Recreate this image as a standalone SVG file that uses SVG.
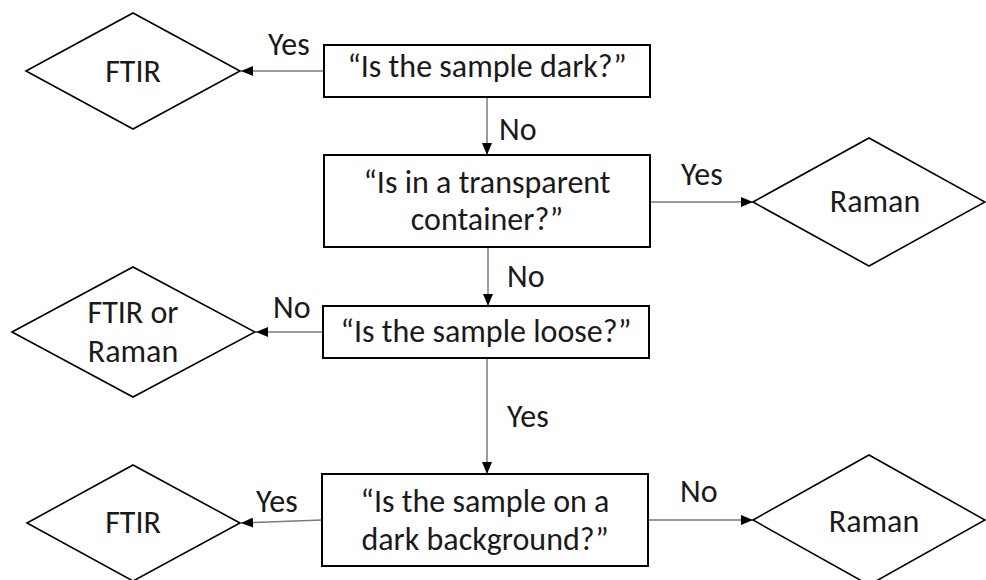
<svg xmlns="http://www.w3.org/2000/svg" width="986" height="580" viewBox="0 0 986 580">
<style>
text{font-family:Carlito,Calibri,"Liberation Sans",sans-serif;font-size:32px;fill:#1a1a1a}
.c{text-anchor:middle}
.box{fill:#fff;stroke:#000;stroke-width:2}
.dia{fill:#fff;stroke:#000;stroke-width:1.6}
.con{fill:none;stroke:#7a7a7a;stroke-width:1.5}
</style>
<defs>
<marker id="ah" markerUnits="userSpaceOnUse" markerWidth="12" markerHeight="10" viewBox="0 0 12 10" refX="12" refY="5" orient="auto">
<path d="M0,0 L12,5 L0,10 Z" fill="#000"/>
</marker>
</defs>
<g id="connectors">
<line class="con" x1="324" y1="71" x2="241" y2="71" marker-end="url(#ah)"/>
<line class="con" x1="487" y1="97" x2="487" y2="155" marker-end="url(#ah)"/>
<line class="con" x1="650" y1="202" x2="753" y2="202" marker-end="url(#ah)"/>
<line class="con" x1="488" y1="247" x2="488" y2="306" marker-end="url(#ah)"/>
<line class="con" x1="323" y1="332" x2="256" y2="332" marker-end="url(#ah)"/>
<line class="con" x1="487" y1="358" x2="487" y2="474" marker-end="url(#ah)"/>
<line class="con" x1="322" y1="520" x2="241" y2="523" marker-end="url(#ah)"/>
<line class="con" x1="648" y1="520" x2="753" y2="520" marker-end="url(#ah)"/>
<text x="268" y="55">Yes</text>
<text x="499" y="140">No</text>
<text x="681" y="185">Yes</text>
<text x="507" y="287">No</text>
<text x="273" y="318">No</text>
<text x="507" y="427">Yes</text>
<text x="256" y="512">Yes</text>
<text x="680" y="502">No</text>
</g>
<g id="q-dark">
<rect class="box" x="324" y="45" width="326" height="52"/>
<text class="c" x="487" y="77">“Is the sample dark?”</text>
</g>
<g id="q-container">
<rect class="box" x="324" y="155" width="326" height="92"/>
<text class="c" x="487" y="193">“Is in a transparent</text>
<text class="c" x="487" y="230">container?”</text>
</g>
<g id="q-loose">
<rect class="box" x="323" y="306" width="326" height="52"/>
<text class="c" x="486" y="342">“Is the sample loose?”</text>
</g>
<g id="q-background">
<rect class="box" x="322" y="474" width="326" height="92"/>
<text class="c" x="485" y="512">“Is the sample on a</text>
<text class="c" x="485" y="550">dark background?”</text>
</g>
<g id="r-ftir-top">
<polygon class="dia" points="26,71 133,13 240,71 133,129"/>
<text class="c" x="133" y="82">FTIR</text>
</g>
<g id="r-raman-top">
<polygon class="dia" points="753,202 869,138 985,202 869,266"/>
<text class="c" x="875" y="212">Raman</text>
</g>
<g id="r-ftir-or-raman">
<polygon class="dia" points="12,332 133,267 255,332 133,397"/>
<text class="c" x="133" y="323">FTIR or</text>
<text class="c" x="133" y="362">Raman</text>
</g>
<g id="r-ftir-bottom">
<polygon class="dia" points="27,523 133,465 240,523 133,581"/>
<text class="c" x="133" y="533">FTIR</text>
</g>
<g id="r-raman-bottom">
<polygon class="dia" points="753,520 869,455 985,520 869,585"/>
<text class="c" x="874" y="532">Raman</text>
</g>
</svg>
